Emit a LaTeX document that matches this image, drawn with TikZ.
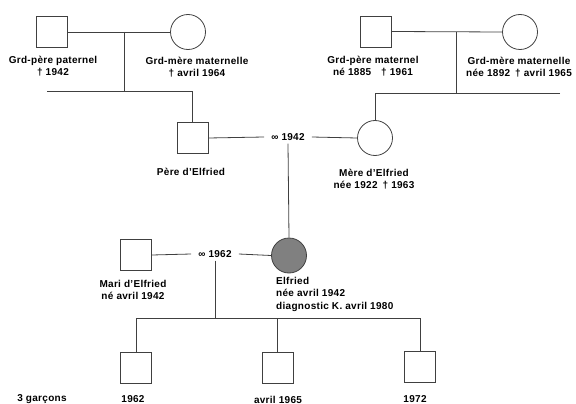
\documentclass[tikz,border=0pt]{standalone}
\usepackage{fontspec}
\setmainfont{Liberation Sans}[LetterSpace=3]
\definecolor{lin}{HTML}{404040}
\definecolor{elfgray}{HTML}{808080}
\begin{document}
\begin{tikzpicture}[x=1pt,y=-1pt,
  male/.style={draw=lin,line width=0.8pt,minimum size=31pt,inner sep=0pt,rectangle},
  female/.style={draw=lin,line width=0.8pt,minimum size=35pt,inner sep=0pt,circle},
  lbl/.style={font=\bfseries\fontsize{10}{12}\selectfont,align=center,inner sep=0pt},
  lbll/.style={font=\bfseries\fontsize{10}{12.5}\selectfont,align=left,inner sep=0pt,anchor=north west},
  mar/.style={font=\bfseries\fontsize{10}{11}\selectfont,inner xsep=7pt,inner ysep=3pt},
  con/.style={draw=lin,line width=0.8pt}]
\useasboundingbox (0,0) rectangle (576,404);
% grandparents paternal
\node[male] (gpp) at (52,32) {};
\node[female] (gmp) at (188,32) {};
\node[lbl] (gppl) at (53,66) {Grd-père paternel\\† 1942};
\node[lbl] (gmpl) at (197,67) {Grd-mère maternelle\\† avril 1964};
% grandparents maternal
\node[male] (gpm) at (376,31.5) {};
\node[female] (gmm) at (520,32) {};
\node[lbl] (gpml) at (373,66) {Grd-père maternel\\né 1885\quad † 1961};
\node[lbl] (gmml) at (519,67) {Grd-mère maternelle\\née 1892\enspace † avril 1965};
% parents
\node[male] (pere) at (192.5,138) {};
\node[female] (mere) at (375,138) {};
\node[mar] (m42) at (288,137) {∞ 1942};
\node[lbl] (perel) at (191,172) {Père d'Elfried};
\node[lbl] (merel) at (374,179.5) {Mère d'Elfried\\née 1922\enspace † 1963};
% Elfried & husband
\node[male] (mari) at (136,255) {};
\node[female,fill=elfgray] (elf) at (289,255.5) {};
\node[mar] (m62) at (215,254) {∞ 1962};
\node[lbl] (maril) at (133,290) {Mari d'Elfried\\né avril 1942};
\node[lbll] (elfl) at (276,277) {Elfried\\née avril 1942\\diagnostic K. avril 1980};
% children
\node[male] (c1) at (136,368) {};
\node[male] (c2) at (277.5,367.5) {};
\node[male] (c3) at (420,366.5) {};
\node[lbl] (gar) at (42,399) {3 garçons};
\node[lbl] (c1l) at (133,399) {1962};
\node[lbl] (c2l) at (278,399.5) {avril 1965};
\node[lbl] (c3l) at (415,399) {1972};
% coordinates
\coordinate (pj) at (124,32);
\coordinate (pb) at (124,91);
\coordinate (pl) at (47,91);
\coordinate (pr) at (192.5,91);
\coordinate (mj) at (456,32);
\coordinate (mb) at (456,93);
\coordinate (ml) at (375,93);
\coordinate (mr) at (560,93);
\coordinate (cb) at (215,318);
\coordinate (cl) at (136,318);
\coordinate (cm) at (277.5,318);
\coordinate (cr) at (420,318);
% connectors
\draw[con] (gpp.east) -- (gmp.west);
\draw[con] (pj) -- (pb);
\draw[con] (pl) -- (pr) -- (pere.north);
\draw[con] (gpm.east) -- (gmm.west);
\draw[con] (mj) -- (mb);
\draw[con] (mr) -- (ml) -- (mere.north);
\draw[con] (pere.east) -- (m42.west);
\draw[con] (m42.east) -- (mere.west);
\draw[con] (m42.south) -- (elf.north);
\draw[con] (mari.east) -- (m62.west);
\draw[con] (m62.east) -- (elf.west);
\draw[con] (m62.south) -- (cb);
\draw[con] (cl) -- (cr);
\draw[con] (cl) -- (c1.north);
\draw[con] (cm) -- (c2.north);
\draw[con] (cr) -- (c3.north);
\end{tikzpicture}
\end{document}
